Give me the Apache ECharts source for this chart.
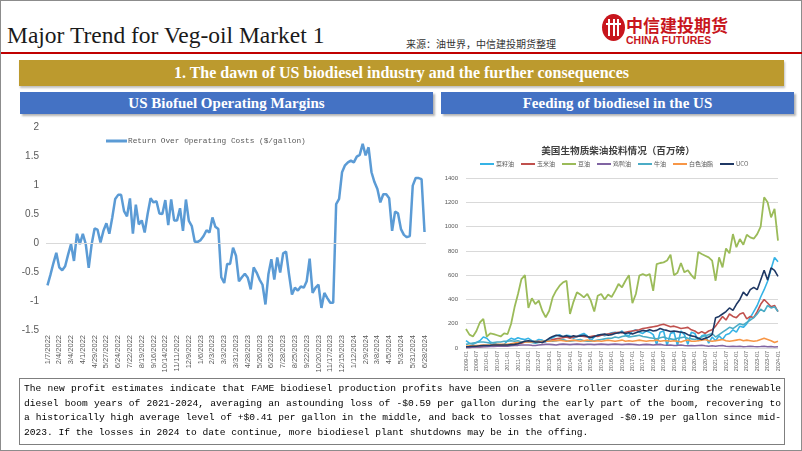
<!DOCTYPE html>
<html>
<head>
<meta charset="utf-8">
<script src="https://cdn.jsdelivr.net/npm/echarts@6/dist/echarts.min.js"></script>
<style>
  html, body { margin: 0; padding: 0; width: 802px; height: 451px; overflow: hidden; background: #fff; }
  #slide { position: relative; width: 802px; height: 451px; box-sizing: border-box; border: 1px solid #8c8c8c; }
  #chart { position: absolute; left: 0; top: 0; width: 802px; height: 451px; }
  .title { position: absolute; left: 6px; top: 21px; font: 23.5px 'Liberation Serif', serif; color: #1a1a1a; white-space: nowrap; }
  .source { position: absolute; left: 405px; top: 35px; font: 10px 'Noto Sans CJK SC', sans-serif; color: #333; white-space: nowrap; }
  .redline { position: absolute; left: 0; top: 51px; width: 802px; height: 2px; background: #c00000; }
  .logo { position: absolute; left: 601px; top: 13px; width: 23px; height: 27px; border-radius: 50%; background: #c8161d; }
  .logo i { position: absolute; top: 5px; width: 2px; height: 17px; background: #fff; }
  .logo b { position: absolute; left: 4px; top: 9px; width: 15px; height: 2px; background: #fff; }
  .logo-cn { position: absolute; left: 625px; top: 11px; font: bold 17px 'Noto Sans CJK SC', sans-serif; color: #c8161d; white-space: nowrap; }
  .logo-en { position: absolute; left: 625px; top: 33px; font: bold 10.5px 'Liberation Sans', sans-serif; color: #c8161d; white-space: nowrap; }
  .banner { position: absolute; left: 18px; top: 59px; width: 765px; height: 26px; background: #bc9a2e; color: #fff;
            font: bold 16px 'Liberation Serif', serif; text-align: center; line-height: 26px; box-shadow: 1px 2px 2px rgba(0,0,0,0.25); }
  .head { position: absolute; top: 91px; height: 22px; background: #4472c4; color: #fff; font: bold 15px 'Liberation Serif', serif;
          text-align: center; line-height: 22px; box-shadow: 2px 2px 2px rgba(0,0,0,0.3); }
  .note { position: absolute; left: 18px; top: 377px; width: 766px; height: 67px; box-sizing: border-box; border: 1px solid #7f7f7f; padding: 3px 0 0 4px; }
  .note div { width: 757px; font: 9.6px 'Liberation Mono', monospace; color: #000; line-height: 14.5px; text-align: justify; text-align-last: justify; white-space: nowrap; }
  .note div.last { text-align-last: left; }
</style>
</head>
<body>
<div id="slide">
  <div class="title">Major Trend for Veg-oil Market 1</div>
  <div class="source">来源：油世界，中信建投期货整理</div>
  <div class="logo"><i style="left:6px"></i><i style="left:10.5px"></i><i style="left:15px"></i><b></b></div>
  <div class="logo-cn">中信建投期货</div>
  <div class="logo-en">CHINA FUTURES</div>
  <div class="redline"></div>
  <div class="banner">1. The dawn of US biodiesel industry and the further consequences</div>
  <div class="head" style="left:19px;width:413px">US Biofuel Operating Margins</div>
  <div class="head" style="left:440px;width:353px">Feeding of biodiesel in the US</div>
  <div id="chart"></div>
  <div class="note">
    <div style="white-space:normal">The new profit estimates indicate that FAME biodiesel production profits have been on a severe roller coaster during the renewable</div>
    <div style="white-space:normal">diesel boom years of 2021-2024, averaging an astounding loss of -$0.59 per gallon during the early part of the boom, recovering to</div>
    <div style="white-space:normal">a historically high average level of +$0.41 per gallon in the middle, and back to losses that averaged -$0.19 per gallon since mid-</div>
    <div class="last">2023. If the losses in 2024 to date continue, more biodiesel plant shutdowns may be in the offing.</div>
  </div>
</div>
<script>
// 左图：周度日期（2023年7月缺一周）
const marginDates = [
  '1/7/2022','1/14/2022','1/21/2022','1/28/2022','2/4/2022','2/11/2022','2/18/2022','2/25/2022','3/4/2022','3/11/2022',
  '3/18/2022','3/25/2022','4/1/2022','4/8/2022','4/15/2022','4/22/2022','4/29/2022','5/6/2022','5/13/2022','5/20/2022',
  '5/27/2022','6/3/2022','6/10/2022','6/17/2022','6/24/2022','7/1/2022','7/8/2022','7/15/2022','7/22/2022','7/29/2022',
  '8/5/2022','8/12/2022','8/19/2022','8/26/2022','9/2/2022','9/9/2022','9/16/2022','9/23/2022','9/30/2022','10/7/2022',
  '10/14/2022','10/21/2022','10/28/2022','11/4/2022','11/11/2022','11/18/2022','11/25/2022','12/2/2022','12/9/2022','12/16/2022',
  '12/23/2022','12/30/2022','1/6/2023','1/13/2023','1/20/2023','1/27/2023','2/3/2023','2/10/2023','2/17/2023','2/24/2023',
  '3/3/2023','3/10/2023','3/17/2023','3/24/2023','3/31/2023','4/7/2023','4/14/2023','4/21/2023','4/28/2023','5/5/2023',
  '5/12/2023','5/19/2023','5/26/2023','6/2/2023','6/9/2023','6/16/2023','6/23/2023','6/30/2023','7/14/2023','7/21/2023',
  '7/28/2023','8/4/2023','8/11/2023','8/18/2023','8/25/2023','9/1/2023','9/8/2023','9/15/2023','9/22/2023','9/29/2023',
  '10/6/2023','10/13/2023','10/20/2023','10/27/2023','11/3/2023','11/10/2023','11/17/2023','11/24/2023','12/1/2023','12/8/2023',
  '12/15/2023','12/22/2023','12/29/2023','1/5/2024','1/12/2024','1/19/2024','1/26/2024','2/2/2024','2/9/2024','2/16/2024',
  '2/23/2024','3/1/2024','3/8/2024','3/15/2024','3/22/2024','3/29/2024','4/5/2024','4/12/2024','4/19/2024','4/26/2024',
  '5/3/2024','5/10/2024','5/17/2024','5/24/2024','5/31/2024','6/7/2024','6/14/2024','6/21/2024','6/28/2024'
];
// Return Over Operating Costs ($/gallon)
const marginValues = [
  -0.73, -0.55, -0.35, -0.17, -0.42, -0.47, -0.40, -0.20, -0.02, -0.31,
  0.16, -0.02, 0.16, -0.02, -0.43, -0.02, 0.25, 0.23, 0.01, 0.21,
  0.34, 0.16, 0.44, 0.76, 0.83, 0.83, 0.55, 0.46, 0.77, 0.16,
  0.66, 0.32, 0.39, 0.18, 0.50, 0.77, 0.70, 0.72, 0.51, 0.50,
  0.74, 0.31, 0.75, 0.39, 0.39, 0.60, 0.21, 0.75, 0.38, 0.29,
  0.02, 0.02, 0.05, 0.12, 0.22, 0.18, 0.44, 0.28, 0.24, -0.59,
  -0.69, -0.36, -0.36, -0.08, -0.22, -0.66, -0.59, -0.53, -0.60, -0.80,
  -0.42, -0.51, -0.63, -0.72, -1.06, -0.54, -0.28, -0.63, -0.25, -0.51,
  -0.18, -0.15, -0.54, -0.89, -0.77, -0.82, -0.75, -0.77, -0.66, -0.27,
  -0.86, -0.77, -0.72, -1.12, -0.86, -0.95, -1.03, -1.03, 0.67, 0.76,
  1.22, 1.34, 1.39, 1.42, 1.39, 1.49, 1.52, 1.71, 1.51, 1.65,
  1.22, 1.05, 0.93, 0.70, 0.84, 0.84, 0.77, 0.21, 0.54, 0.51,
  0.24, 0.14, 0.10, 0.12, 0.99, 1.12, 1.12, 1.10, 0.19
];

// 右图：双月度类目 2009-01 ~ 2024-01
const feedYears = [2009, 2010, 2011, 2012, 2013, 2014, 2015, 2016, 2017, 2018, 2019, 2020, 2021, 2022, 2023];
const feedMonths = ['01', '03', '05', '07', '09', '11'];
const feedLastMonth = '2024-01';
const feedMonthsAll = [];
feedYears.forEach(function (y) { feedMonths.forEach(function (m) { feedMonthsAll.push(y + '-' + m); }); });
feedMonthsAll.push(feedLastMonth);

const feedNames = ['菜籽油', '玉米油', '豆油', '鸡鸭油', '牛油', '白色油脂', 'UCO'];
const feedColors = ['#35b3e6', '#c0504d', '#9bbb59', '#8064a2', '#4bacc6', '#f79646', '#1f3864'];
// 百万磅
const canola = [
  60, 40, 30, 45, 60, 90, 80, 50, 40, 30, 25, 30, 60, 80, 70, 85, 75, 70,
  80, 60, 55, 70, 65, 50, 75, 85, 100, 110, 90, 105, 100, 80, 95, 110, 120, 100,
  60, 90, 105, 110, 100, 115, 125, 130, 120, 140, 110, 100, 140, 150, 130, 120, 140, 130,
  110, 30, 130, 140, 20, 120, 130, 20, 140, 110, 30, 130, 120, 60, 100, 110, 40, 90,
  60, 100, 70, 110, 120, 150, 130, 180, 170, 200, 250, 300, 350, 420, 480, 550, 650, 745, 710
];
const cornOil = [
  5, 5, 8, 10, 10, 12, 15, 15, 18, 20, 22, 25, 25, 28, 30, 35, 40, 50,
  55, 50, 50, 55, 45, 55, 60, 70, 75, 80, 85, 90, 80, 90, 95, 100, 95, 90,
  95, 100, 95, 105, 110, 115, 120, 125, 130, 125, 130, 135, 140, 145, 150, 160, 165, 170,
  175, 180, 190, 195, 185, 175, 180, 170, 160, 165, 170, 150, 140, 120, 135, 120, 140, 150,
  180, 220, 260, 230, 280, 260, 250, 280, 290, 240, 260, 250, 300, 360, 400, 370, 340, 350, 300
];
const soyOil = [
  156, 110, 95, 140, 210, 239, 93, 120, 115, 105, 95, 120, 115, 198, 335, 445, 568, 600,
  330, 410, 362, 390, 307, 252, 307, 417, 472, 513, 541, 554, 280, 380, 458, 440, 417, 445,
  390, 300, 430, 445, 400, 440, 420, 470, 527, 500, 554, 600, 370, 445, 596, 609, 596, 609,
  470, 690, 700, 705, 720, 768, 600, 620, 700, 623, 640, 600, 570, 790, 774, 760, 746, 719,
  554, 746, 664, 820, 780, 938, 830, 897, 850, 933, 911, 900, 938, 1000, 1241, 1200, 1076, 1145, 884
];
const poultry = [
  5, 5, 6, 8, 8, 10, 10, 12, 12, 14, 15, 15, 15, 18, 20, 22, 25, 25,
  25, 22, 20, 25, 28, 30, 30, 28, 25, 30, 32, 30, 28, 30, 32, 30, 28, 30,
  30, 28, 30, 32, 30, 28, 30, 32, 30, 28, 30, 32, 30, 28, 25, 28, 30, 28,
  25, 28, 30, 25, 22, 25, 20, 22, 25, 20, 18, 20, 18, 20, 22, 18, 15, 18,
  15, 18, 20, 15, 12, 15, 12, 15, 10, 12, 15, 12, 10, 12, 15, 10, 12, 8, 10
];
const tallow = [
  30, 35, 40, 45, 50, 50, 45, 40, 45, 50, 50, 55, 55, 60, 55, 60, 50, 55,
  50, 45, 40, 45, 50, 55, 60, 55, 60, 65, 70, 60, 55, 60, 65, 70, 60, 55,
  55, 60, 65, 70, 75, 80, 80, 90, 85, 95, 100, 90, 95, 100, 105, 95, 90, 85,
  80, 75, 85, 90, 80, 75, 70, 80, 85, 90, 80, 75, 70, 80, 90, 100, 110, 120,
  90, 110, 130, 150, 170, 160, 180, 200, 190, 210, 230, 250, 280, 320, 300, 350, 330, 340, 300
];
const whiteGrease = [
  15, 18, 20, 20, 22, 25, 25, 25, 28, 30, 30, 30, 30, 35, 40, 45, 45, 50,
  50, 50, 55, 50, 55, 55, 55, 60, 60, 65, 60, 55, 60, 65, 60, 55, 60, 65,
  60, 55, 60, 55, 60, 65, 60, 55, 60, 65, 55, 60, 55, 60, 65, 60, 55, 60,
  60, 65, 55, 60, 60, 55, 60, 55, 50, 60, 65, 55, 55, 60, 65, 70, 60, 55,
  60, 65, 70, 60, 55, 60, 65, 70, 60, 65, 60, 55, 60, 70, 80, 70, 60, 45, 55
];
const uco = [
  10, 12, 15, 15, 18, 20, 20, 22, 25, 25, 25, 25, 25, 28, 30, 35, 45, 55,
  60, 55, 50, 50, 45, 60, 80, 95, 105, 100, 95, 100, 90, 100, 95, 100, 105, 95,
  85, 95, 105, 110, 115, 105, 110, 120, 125, 130, 120, 125, 115, 125, 135, 145, 140, 150,
  140, 145, 160, 150, 145, 135, 140, 135, 130, 125, 110, 100, 95, 80, 70, 80, 90, 110,
  250, 260, 280, 300, 330, 310, 360, 400, 460, 430, 480, 500, 480, 560, 640, 560, 660, 640, 590
];
const feedData = [canola, cornOil, soyOil, poultry, tallow, whiteGrease, uco];

var chart = echarts.init(document.getElementById('chart'));
var gray = '#595959';

var option = {
  animation: false,
  title: {
    text: '美国生物质柴油投料情况（百万磅）',
    left: 612, top: 140, textAlign: 'center',
    textStyle: { fontSize: 9.6, fontWeight: 'bold', color: '#404040', fontFamily: 'Noto Sans CJK SC' }
  },
  legend: [
    {
      data: ['Return Over Operating Costs ($/gallon)'],
      left: 105, top: 136, padding: 0, icon: 'rect', itemWidth: 21, itemHeight: 3,
      textStyle: { fontSize: 7.8, color: gray, fontFamily: 'Liberation Mono', padding: [0, 0, 0, -4] }
    },
    {
      data: feedNames,
      left: 479, top: 160, padding: 0, icon: 'rect', itemWidth: 14, itemHeight: 2, itemGap: 7,
      textStyle: { fontSize: 6, color: gray, fontFamily: 'Noto Sans CJK SC', padding: [0, 0, 0, -3] }
    }
  ],
  grid: [
    { left: 45, top: 126, width: 380, height: 203 },
    { left: 465, top: 177, width: 312, height: 170 }
  ],
  xAxis: [
    {
      gridIndex: 0, type: 'category', data: marginDates, boundaryGap: true,
      axisLine: { show: false }, axisTick: { show: false },
      axisLabel: { interval: 3, rotate: 90, fontSize: 7.5, color: gray, margin: 5, fontFamily: 'Liberation Sans' }
    },
    {
      gridIndex: 1, type: 'category', data: feedMonthsAll, boundaryGap: false,
      axisLine: { show: false }, axisTick: { show: false },
      axisLabel: { interval: 2, rotate: 90, fontSize: 5.5, color: gray, margin: 3, fontFamily: 'Liberation Sans' }
    }
  ],
  yAxis: [
    {
      gridIndex: 0, type: 'value', min: -1.5, max: 2, interval: 0.5,
      axisLine: { show: false }, axisTick: { show: false }, splitLine: { show: false },
      axisLabel: { fontSize: 10, color: gray, margin: 7, fontFamily: 'Liberation Sans' }
    },
    {
      gridIndex: 1, type: 'value', min: 0, max: 1400, interval: 200,
      axisLine: { show: false }, axisTick: { show: false },
      splitLine: { lineStyle: { color: '#d9d9d9', width: 1 } },
      axisLabel: { fontSize: 6, color: gray, margin: 8, fontFamily: 'Liberation Sans',
        formatter: function (v) { return String(v); } }
    }
  ],
  series: [
    {
      name: 'Return Over Operating Costs ($/gallon)', type: 'line',
      xAxisIndex: 0, yAxisIndex: 0, data: marginValues,
      symbol: 'none', lineStyle: { color: '#5b9bd5', width: 2.5 }, itemStyle: { color: '#5b9bd5' },
      // 0 轴线
      markLine: {
        silent: true, symbol: 'none', label: { show: false },
        lineStyle: { color: '#d9d9d9', width: 1, type: 'solid' },
        data: [{ yAxis: 0 }]
      },
      z: 3
    }
  ].concat(feedNames.map(function (name, i) {
    return {
      name: name, type: 'line', xAxisIndex: 1, yAxisIndex: 1, data: feedData[i],
      symbol: 'none', lineStyle: { color: feedColors[i], width: name === '豆油' ? 1.8 : 1.6 },
      itemStyle: { color: feedColors[i] }
    };
  }))
};

chart.setOption(option);
</script>
</body>
</html>
